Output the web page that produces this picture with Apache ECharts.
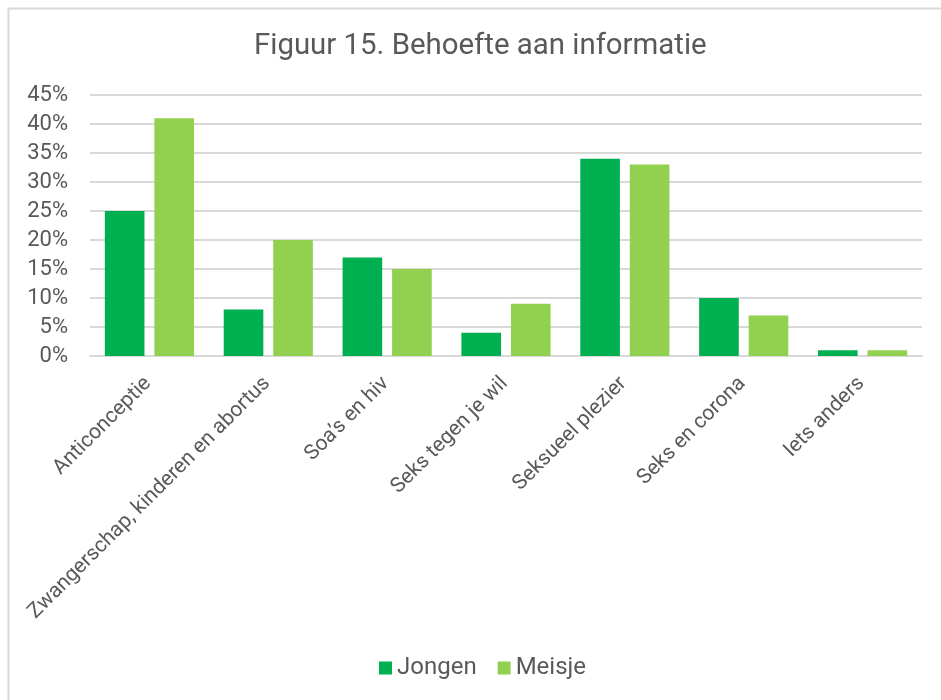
<!DOCTYPE html>
<html>
<head>
<meta charset="utf-8">
<script src="https://cdn.jsdelivr.net/npm/echarts@6/dist/echarts.min.js"></script>
<style>
html,body{margin:0;padding:0;background:#fff;}
#chart{width:941px;height:700px;}
</style>
</head>
<body>
<div id="chart"></div>
<script>
const categories = ['Anticonceptie','Zwangerschap, kinderen en abortus',"Soa’s en hiv",'Seks tegen je wil','Seksueel plezier','Seks en corona','Iets anders'];
const jongen = [25, 8, 17, 4, 34, 10, 1];
const meisje = [41, 20, 15, 9, 33, 7, 1];
const seriesNames = ['Jongen','Meisje'];

const chart = echarts.init(document.getElementById('chart'), null, {renderer:'canvas'});
const font = 'Roboto, "Noto Sans", sans-serif';
chart.setOption({
  animation:false,
  backgroundColor:'#fff',
  textStyle:{fontFamily:font},
  graphic:[{type:'rect', left:6, top:6, shape:{width:1000,height:1000}, style:{fill:'none', stroke:'#d9d9d9', lineWidth:2}, silent:true}],
  title:{text:'Figuur 15. Behoefte aan informatie', left:249, top:27, textStyle:{fontSize:29.4, fontWeight:'normal', color:'#595959', fontFamily:font}},
  legend:{bottom:15, left:374, itemWidth:13, itemHeight:13, itemGap:21, icon:'rect', textStyle:{fontSize:24, color:'#595959', fontFamily:font}, data:seriesNames},
  grid:{left:90, right:19, top:95, bottom:344, containLabel:false},
  xAxis:{type:'category', data:categories, axisLine:{lineStyle:{color:'#d9d9d9', width:2}}, axisTick:{show:false},
    axisLabel:{rotate:45, interval:0, fontSize:21, color:'#595959', margin:23, padding:[0,2,0,0], fontFamily:font}},
  yAxis:{type:'value', min:0, max:45, interval:5, axisLine:{show:false}, axisTick:{show:false},
    splitLine:{lineStyle:{color:'#d9d9d9', width:2}},
    axisLabel:{formatter:'{value}%', fontSize:22, color:'#595959', margin:22, fontFamily:font}},
  series:[
    {name:seriesNames[0], type:'bar', data:jongen, itemStyle:{color:'#00b050'}, barGap:'25%', barCategoryGap:'25%'},
    {name:seriesNames[1], type:'bar', data:meisje, itemStyle:{color:'#92d050'}, barGap:'25%', barCategoryGap:'25%'}
  ]
});
</script>
</body>
</html>
